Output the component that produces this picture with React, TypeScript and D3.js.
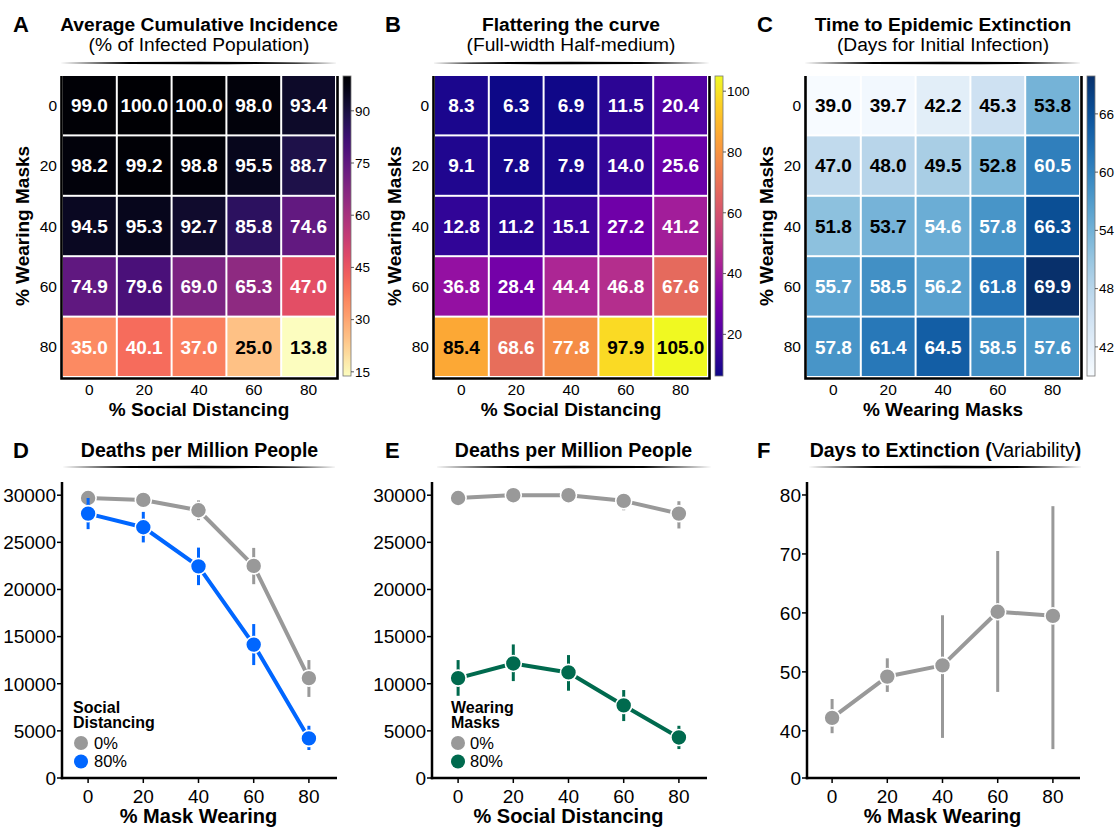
import React from 'react';
import * as d3 from 'd3';

const FONT = '"Liberation Sans", Arial, Helvetica, sans-serif';

// ---------- Data ----------
const levelLabels = ['0', '20', '40', '60', '80'];
const xVals = [0, 20, 40, 60, 80];

// Heatmap rows: % Wearing Masks (0..80), columns: % Social Distancing (0..80)
const incidence = [
  [99.0, 100.0, 100.0, 98.0, 93.4],
  [98.2, 99.2, 98.8, 95.5, 88.7],
  [94.5, 95.3, 92.7, 85.8, 74.6],
  [74.9, 79.6, 69.0, 65.3, 47.0],
  [35.0, 40.1, 37.0, 25.0, 13.8],
];
const fwhm = [
  [8.3, 6.3, 6.9, 11.5, 20.4],
  [9.1, 7.8, 7.9, 14.0, 25.6],
  [12.8, 11.2, 15.1, 27.2, 41.2],
  [36.8, 28.4, 44.4, 46.8, 67.6],
  [85.4, 68.6, 77.8, 97.9, 105.0],
];
const extinction = [
  [39.0, 39.7, 42.2, 45.3, 53.8],
  [47.0, 48.0, 49.5, 52.8, 60.5],
  [51.8, 53.7, 54.6, 57.8, 66.3],
  [55.7, 58.5, 56.2, 61.8, 69.9],
  [57.8, 61.4, 64.5, 58.5, 57.6],
];
const cbTicksA = [15, 30, 45, 60, 75, 90];
const cbTicksB = [20, 40, 60, 80, 100];
const cbTicksC = [42, 48, 54, 60, 66];

// Panel D: deaths vs % mask wearing (mean, lower and upper bar ends)
const deathsSD0 = [29700, 29500, 28400, 22500, 10600];
const deathsSD0Low = [29400, 29100, 27350, 20560, 8600];
const deathsSD0High = [30000, 29900, 29450, 24410, 12510];
const deathsSD80 = [28050, 26600, 22450, 14150, 4200];
const deathsSD80Low = [26400, 24990, 20460, 11980, 2970];
const deathsSD80High = [29700, 28230, 24440, 16330, 5540];

// Panel E: deaths vs % social distancing
const deathsWM0 = [29700, 30000, 30000, 29400, 28050];
const deathsWM0Low = [29400, 29700, 29700, 28400, 26470];
const deathsWM0High = [30000, 30300, 30300, 30200, 29360];
const deathsWM80 = [10600, 12150, 11200, 7700, 4300];
const deathsWM80Low = [8720, 10280, 9260, 6040, 3070];
const deathsWM80High = [12510, 14170, 13040, 9330, 5540];

// Panel F: days to extinction
const daysMean = [42.2, 49.2, 51.1, 60.2, 59.5];
const daysLow = [39.6, 46.6, 38.8, 46.6, 36.9];
const daysHigh = [45.4, 52.3, 59.6, 70.5, 78.1];

const deathTicks = [0, 5000, 10000, 15000, 20000, 25000, 30000];
const daysTicks = [40, 50, 60, 70, 80];
const daysAxisFloor = 32; // broken axis: bottom labelled "0"
const xTicks = [0, 20, 40, 60, 80];

const GRAY = '#999999';
const BLUE = '#0066ff';
const GREEN = '#006a4e';

// ---------- Helpers ----------
function Underline({ x1, x2, y }: { x1: number; x2: number; y: number }) {
  const m = (x1 + x2) / 2;
  const d = `M${x1},${y} Q${m},${y - 2.6} ${x2},${y} Q${m},${y + 2.6} ${x1},${y} Z`;
  return <path d={d} fill="#000" />;
}

function Letter({ x, y, t }: { x: number; y: number; t: string }) {
  return (
    <text x={x} y={y} fontSize={22} fontWeight="bold" fontFamily={FONT}>
      {t}
    </text>
  );
}

type HeatProps = {
  id: string;
  x0: number;
  data: number[][];
  color: (v: number) => string;
  ticks: number[];
  dark: (v: number) => boolean;
  title: string;
  subtitle: string;
  xLabel: string;
  yLabel: string;
  letter: string;
};

function Heatmap(p: HeatProps) {
  const W = 274;
  const y0 = 75;
  const H = 302;
  const xs = d3.scaleBand().domain(levelLabels).range([p.x0, p.x0 + W]);
  const ys = d3.scaleBand().domain(levelLabels).range([y0, y0 + H]);
  const ext = d3.extent(p.data.flat()) as [number, number];
  const cbY = d3.scaleLinear().domain(ext).range([y0 + H - 1, y0 + 1]);
  const cbX = p.x0 + 281;
  const cbW = 8;
  const stops = d3.range(0, 41).map((i) => i / 40);
  const cx = p.x0 + W / 2;
  return (
    <g fontFamily={FONT}>
      <Letter x={p.x0 - 49} y={32} t={p.letter} />
      <text x={cx} y={31} textAnchor="middle" fontSize={19.2} fontWeight="bold">
        {p.title}
      </text>
      <text x={cx} y={51} textAnchor="middle" fontSize={19.2}>
        {p.subtitle}
      </text>
      <Underline x1={p.x0 - 2} x2={p.x0 + W + 2} y={63} />
      {p.data.map((row, i) =>
        row.map((v, j) => {
          const x = xs(levelLabels[j])!;
          const y = ys(levelLabels[i])!;
          return (
            <g key={`${i}-${j}`}>
              <rect
                x={x + 1}
                y={y + 1}
                width={xs.bandwidth() - 2}
                height={ys.bandwidth() - 2}
                fill={p.color(v)}
              />
              <text
                x={x + xs.bandwidth() / 2}
                y={y + ys.bandwidth() / 2}
                dy="0.36em"
                textAnchor="middle"
                fontSize={19}
                fontWeight="bold"
                fill={p.dark(v) ? '#000' : '#fff'}
              >
                {v.toFixed(1)}
              </text>
            </g>
          );
        })
      )}
      <path
        d={`M${p.x0 - 0.5},${y0 + 1} V${y0 + H + 1.5} H${p.x0 + W + 1.5} V${y0 + 1}`}
        fill="none"
        stroke="#000"
        strokeWidth={2.6}
      />
      {levelLabels.map((l) => (
        <text
          key={'yt' + l}
          x={p.x0 - 5}
          y={ys(l)! + ys.bandwidth() / 2}
          dy="0.36em"
          textAnchor="end"
          fontSize={15.5}
        >
          {l}
        </text>
      ))}
      {levelLabels.map((l) => (
        <text
          key={'xt' + l}
          x={xs(l)! + xs.bandwidth() / 2}
          y={395}
          textAnchor="middle"
          fontSize={15.5}
        >
          {l}
        </text>
      ))}
      <text x={cx} y={416} textAnchor="middle" fontSize={19} fontWeight="bold">
        {p.xLabel}
      </text>
      <text
        transform={`translate(${p.x0 - 33},${y0 + H / 2}) rotate(-90)`}
        textAnchor="middle"
        fontSize={19}
        fontWeight="bold"
      >
        {p.yLabel}
      </text>
      <defs>
        <linearGradient id={p.id} x1="0" y1="1" x2="0" y2="0">
          {stops.map((s) => (
            <stop
              key={s}
              offset={s}
              stopColor={p.color(ext[0] + (ext[1] - ext[0]) * s)}
            />
          ))}
        </linearGradient>
      </defs>
      <rect
        x={cbX}
        y={y0 + 1}
        width={cbW}
        height={H - 2}
        fill={`url(#${p.id})`}
        stroke="#777"
        strokeWidth={0.8}
      />
      {p.ticks.map((t) => (
        <g key={'cb' + t}>
          <line x1={cbX + cbW} x2={cbX + cbW + 3} y1={cbY(t)} y2={cbY(t)} stroke="#333" strokeWidth={0.8} />
          <text x={cbX + cbW + 4} y={cbY(t)} dy="0.36em" fontSize={13.5}>
            {t}
          </text>
        </g>
      ))}
    </g>
  );
}

type Series = { values: number[]; low: number[]; high: number[]; color: string; label: string };

type LineProps = {
  axisX: number;
  axisEnd: number;
  xRange: [number, number];
  yDomain: [number, number];
  yTicks: number[];
  yFloorLabel?: string;
  series: Series[];
  letter: string;
  letterX: number;
  titleParts: { t: string; bold: boolean }[];
  ulX1: number;
  ulX2: number;
  xLabel: string;
  legend?: { title: string[]; x: number; cx: number; tx: number };
};

function LinePanel(p: LineProps) {
  const yBottom = 778;
  const yTop = 482;
  const x = d3.scaleLinear().domain([-10, 90]).range(p.xRange);
  const y = d3.scaleLinear().domain(p.yDomain).range([yBottom, yTop]);
  const line = d3
    .line<number>()
    .x((_, i) => x(xVals[i]))
    .y((d) => y(d));
  const tc = (p.ulX1 + p.ulX2) / 2;
  const yTickList = p.yFloorLabel !== undefined ? [p.yDomain[0], ...p.yTicks] : p.yTicks;
  return (
    <g fontFamily={FONT}>
      <Letter x={p.letterX} y={458} t={p.letter} />
      <text x={tc} y={457} textAnchor="middle" fontSize={19.5}>
        {p.titleParts.map((tp, i) => (
          <tspan key={i} fontWeight={tp.bold ? 'bold' : 'normal'}>
            {tp.t}
          </tspan>
        ))}
      </text>
      <Underline x1={p.ulX1} x2={p.ulX2} y={467} />
      {/* axes */}
      <line x1={p.axisX} x2={p.axisX} y1={yTop} y2={yBottom + 1.25} stroke="#000" strokeWidth={2.5} />
      <line x1={p.axisX - 1.25} x2={p.axisEnd} y1={yBottom} y2={yBottom} stroke="#000" strokeWidth={2.5} />
      {yTickList.map((t, i) => (
        <g key={'y' + i}>
          <line x1={p.axisX - 5} x2={p.axisX} y1={y(t)} y2={y(t)} stroke="#000" strokeWidth={1.5} />
          <text x={p.axisX - 6} y={y(t)} dy="0.36em" textAnchor="end" fontSize={19}>
            {p.yFloorLabel !== undefined && i === 0 ? p.yFloorLabel : t}
          </text>
        </g>
      ))}
      {xTicks.map((t) => (
        <g key={'x' + t}>
          <line x1={x(t)} x2={x(t)} y1={yBottom} y2={yBottom + 5} stroke="#000" strokeWidth={1.5} />
          <text x={x(t)} y={803} textAnchor="middle" fontSize={19}>
            {t}
          </text>
        </g>
      ))}
      <text x={x(40)} y={823} textAnchor="middle" fontSize={20} fontWeight="bold">
        {p.xLabel}
      </text>
      {/* series */}
      {p.series.map((s, si) => (
        <g key={'s' + si}>
          <path d={line(s.values)!} fill="none" stroke={s.color} strokeWidth={4} strokeLinejoin="round" />
          {s.values.map((v, i) => (
            <line
              key={'e' + i}
              x1={x(xVals[i])}
              x2={x(xVals[i])}
              y1={y(s.low[i])}
              y2={y(s.high[i])}
              stroke={s.color}
              strokeWidth={3}
            />
          ))}
          {s.values.map((v, i) => (
            <circle key={'c' + i} cx={x(xVals[i])} cy={y(v)} r={8} fill={s.color} stroke="#fff" strokeWidth={1.6} />
          ))}
        </g>
      ))}
      {p.legend && (
        <g>
          {p.legend.title.map((l, i) => (
            <text key={'lt' + i} x={p.legend!.x} y={713 + i * 15} fontSize={16} fontWeight="bold">
              {l}
            </text>
          ))}
          {p.series.map((s, i) => (
            <g key={'li' + i}>
              <circle cx={p.legend!.cx} cy={743 + i * 18.5} r={7} fill={s.color} />
              <text x={p.legend!.tx} y={743 + i * 18.5} dy="0.36em" fontSize={16.5}>
                {s.label}
              </text>
            </g>
          ))}
        </g>
      )}
    </g>
  );
}

export default function App() {
  const extA = d3.extent(incidence.flat()) as [number, number];
  const extB = d3.extent(fwhm.flat()) as [number, number];
  const extC = d3.extent(extinction.flat()) as [number, number];
  const magma = d3.scaleSequential(d3.interpolateMagma).domain([extA[1], extA[0]]);
  const plasma = d3.scaleSequential(d3.interpolatePlasma).domain(extB);
  const blues = d3.scaleSequential(d3.interpolateBlues).domain(extC);

  return (
    <div style={{ position: 'absolute', left: 0, top: 0 }}>
      <svg width={1115} height={828} style={{ display: 'block', background: '#fff' }}>
        <Heatmap
          id="gA"
          x0={62}
          data={incidence}
          color={(v) => magma(v)}
          ticks={cbTicksA}
          dark={(v) => v < 30}
          title="Average Cumulative Incidence"
          subtitle="(% of Infected Population)"
          xLabel="% Social Distancing"
          yLabel="% Wearing Masks"
          letter="A"
        />
        <Heatmap
          id="gB"
          x0={434}
          data={fwhm}
          color={(v) => plasma(v)}
          ticks={cbTicksB}
          dark={(v) => v > 80}
          title="Flattering the curve"
          subtitle="(Full-width Half-medium)"
          xLabel="% Social Distancing"
          yLabel="% Wearing Masks"
          letter="B"
        />
        <Heatmap
          id="gC"
          x0={806}
          data={extinction}
          color={(v) => blues(v)}
          ticks={cbTicksC}
          dark={(v) => v < 54}
          title="Time to Epidemic Extinction"
          subtitle="(Days for Initial Infection)"
          xLabel="% Wearing Masks"
          yLabel="% Wearing Masks"
          letter="C"
        />
        <LinePanel
          axisX={62}
          axisEnd={337}
          xRange={[60.5, 336.5]}
          yDomain={[0, 31400]}
          yTicks={deathTicks}
          series={[
            { values: deathsSD0, low: deathsSD0Low, high: deathsSD0High, color: GRAY, label: '0%' },
            { values: deathsSD80, low: deathsSD80Low, high: deathsSD80High, color: BLUE, label: '80%' },
          ]}
          letter="D"
          letterX={13}
          titleParts={[{ t: 'Deaths per Million People', bold: true }]}
          ulX1={62}
          ulX2={337}
          xLabel="% Mask Wearing"
          legend={{ title: ['Social', 'Distancing'], x: 73, cx: 81, tx: 94 }}
        />
        <LinePanel
          axisX={432}
          axisEnd={707}
          xRange={[430.5, 706.5]}
          yDomain={[0, 31400]}
          yTicks={deathTicks}
          series={[
            { values: deathsWM0, low: deathsWM0Low, high: deathsWM0High, color: GRAY, label: '0%' },
            { values: deathsWM80, low: deathsWM80Low, high: deathsWM80High, color: GREEN, label: '80%' },
          ]}
          letter="E"
          letterX={385}
          titleParts={[{ t: 'Deaths per Million People', bold: true }]}
          ulX1={435}
          ulX2={712}
          xLabel="% Social Distancing"
          legend={{ title: ['Wearing', 'Masks'], x: 451, cx: 458, tx: 470 }}
        />
        <LinePanel
          axisX={807}
          axisEnd={1080}
          xRange={[804.5, 1080.5]}
          yDomain={[daysAxisFloor, 82.2]}
          yTicks={daysTicks}
          yFloorLabel="0"
          series={[{ values: daysMean, low: daysLow, high: daysHigh, color: GRAY, label: '' }]}
          letter="F"
          letterX={757}
          titleParts={[
            { t: 'Days to Extinction (', bold: true },
            { t: 'Variability', bold: false },
            { t: ')', bold: true },
          ]}
          ulX1={808}
          ulX2={1083}
          xLabel="% Mask Wearing"
        />
      </svg>
    </div>
  );
}
